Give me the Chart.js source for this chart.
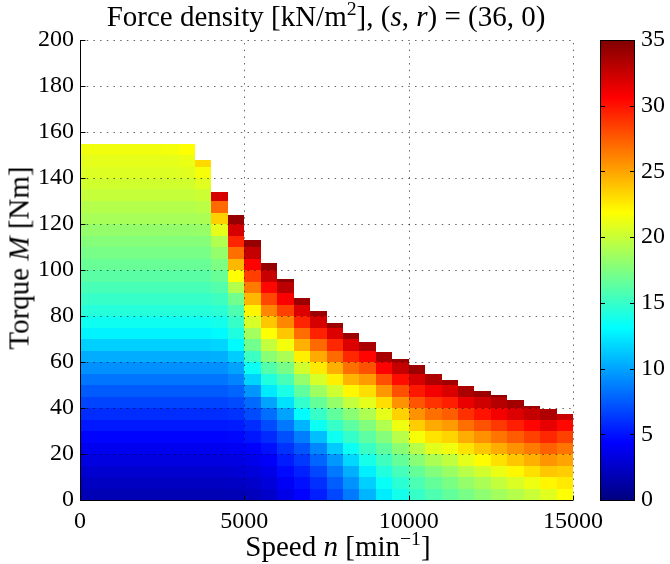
<!DOCTYPE html>
<html>
<head>
<meta charset="utf-8">
<script src="https://cdn.jsdelivr.net/npm/chart.js@4.4.1/dist/chart.umd.min.js"></script>
<style>
  html, body { margin: 0; padding: 0; background: #fff; }
  #wrap { position: relative; width: 670px; height: 564px; font-family: 'Liberation Serif', 'Times New Roman', serif; color: #000; }
  #map { position: absolute; left: 0; top: 0; }
  .lbl { position: absolute; white-space: nowrap; font-size: 29px; line-height: 1; }
  .lbl sup { font-size: 0.68em; line-height: 0; }
  #title { left: 326px; top: 2px; transform: translateX(-50%); }
  #xlab { left: 338px; top: 532px; transform: translateX(-50%); }
  #ylab { left: 19px; top: 258px; transform: translate(-50%, -50%) rotate(-90deg); }
</style>
</head>
<body>
<div id="wrap">
  <canvas id="map" width="670" height="564"></canvas>
  <div class="lbl" id="title">Force density [kN/m<sup>2</sup>], (<i>s</i>, <i>r</i>) = (36, 0)</div>
  <div class="lbl" id="xlab">Speed <i>n</i> [min<sup>−1</sup>]</div>
  <div class="lbl" id="ylab">Torque <i>M</i> [Nm]</div>
</div>
<script>
// speed bins (centre, min^-1), each 500 wide; torque rows are 5 Nm, from 0 upward
const speedBins = [250, 750, 1250, 1750, 2250, 2750, 3250, 3750, 4250, 4750,
    5250, 5750, 6250, 6750, 7250, 7750, 8250, 8750, 9250, 9750,
    10250, 10750, 11250, 11750, 12250, 12750, 13250, 13750, 14250, 14750];
const binWidth = 500;
const torqueStep = 5;

// upper torque limit of the operating area in each bin (Nm)
const torqueMax = [155, 155, 155, 155, 155, 155, 155, 148, 134, 124,
    113, 103, 96, 88, 82, 77, 72.5, 68.5, 64.5, 61.5,
    58.5, 55, 52, 49.5, 47.5, 45.5, 43.5, 41, 39.5, 37.5];

// force density in kN/m^2, one list per speed bin, rows from 0 Nm upward
const density = [
    [1.8, 2.3, 2.8, 3.3, 3.9, 4.5, 5.2, 5.9, 6.7, 7.5, 8.4, 9.3, 10.3, 11.5, 12.7, 13.6, 14.4, 15.0, 15.6, 16.2, 16.7, 17.2, 17.7, 18.2, 18.9, 19.3, 19.9, 20.3, 20.7, 21.0, 21.4],
    [1.8, 2.3, 2.8, 3.3, 3.9, 4.5, 5.2, 5.9, 6.7, 7.5, 8.4, 9.3, 10.3, 11.5, 12.7, 13.6, 14.4, 15.0, 15.6, 16.2, 16.7, 17.2, 17.7, 18.2, 18.9, 19.3, 19.9, 20.3, 20.7, 21.0, 21.4],
    [1.8, 2.3, 2.8, 3.3, 3.9, 4.5, 5.2, 5.9, 6.7, 7.5, 8.4, 9.3, 10.3, 11.5, 12.7, 13.6, 14.4, 15.0, 15.6, 16.2, 16.7, 17.2, 17.7, 18.2, 18.9, 19.3, 19.9, 20.3, 20.7, 21.0, 21.4],
    [1.8, 2.3, 2.8, 3.3, 3.9, 4.5, 5.2, 5.9, 6.7, 7.5, 8.4, 9.3, 10.3, 11.5, 12.7, 13.6, 14.4, 15.0, 15.6, 16.2, 16.7, 17.2, 17.7, 18.2, 18.9, 19.3, 19.9, 20.3, 20.7, 21.0, 21.4],
    [1.8, 2.3, 2.8, 3.3, 3.9, 4.5, 5.2, 5.9, 6.7, 7.5, 8.4, 9.3, 10.3, 11.5, 12.7, 13.6, 14.4, 15.0, 15.6, 16.2, 16.7, 17.2, 17.7, 18.2, 18.9, 19.3, 19.9, 20.3, 20.7, 21.0, 21.4],
    [1.8, 2.3, 2.8, 3.3, 3.9, 4.5, 5.2, 5.9, 6.7, 7.5, 8.4, 9.3, 10.3, 11.5, 12.7, 13.6, 14.4, 15.0, 15.6, 16.2, 16.7, 17.2, 17.7, 18.2, 18.9, 19.3, 19.9, 20.3, 20.7, 21.0, 21.5],
    [1.8, 2.3, 2.8, 3.3, 3.9, 4.5, 5.2, 5.9, 6.7, 7.5, 8.4, 9.3, 10.3, 11.5, 12.7, 13.6, 14.4, 15.0, 15.6, 16.2, 16.7, 17.2, 17.7, 18.2, 18.9, 19.3, 19.9, 20.3, 20.8, 21.2, 21.8],
    [1.8, 2.3, 2.8, 3.3, 3.9, 4.5, 5.2, 5.9, 6.7, 7.5, 8.4, 9.3, 10.3, 11.5, 12.7, 13.6, 14.4, 15.0, 15.6, 16.2, 16.7, 17.2, 17.7, 18.3, 19.0, 19.5, 20.1, 20.8, 21.6, 23.2],
    [1.8, 2.3, 2.8, 3.3, 3.9, 4.5, 5.2, 5.9, 6.7, 7.5, 8.4, 9.3, 10.4, 11.7, 13.0, 13.8, 14.6, 15.3, 16.0, 16.7, 17.4, 18.2, 19.2, 21.0, 23.5, 27.0, 32.0],
    [1.9, 2.4, 2.9, 3.4, 4.0, 4.6, 5.3, 6.1, 6.9, 7.8, 8.9, 10.0, 11.4, 13.0, 14.2, 15.0, 15.8, 17.0, 19.3, 21.8, 24.3, 26.8, 29.4, 32.0, 34.2],
    [2.1, 2.6, 3.1, 3.7, 4.3, 5.1, 5.9, 6.9, 8.0, 9.5, 11.6, 13.5, 15.2, 17.0, 18.7, 20.5, 22.2, 24.3, 26.4, 28.5, 30.6, 32.6, 34.2],
    [2.6, 3.1, 3.6, 4.2, 4.9, 5.8, 6.9, 8.2, 10.0, 12.4, 14.2, 16.0, 17.9, 19.8, 21.8, 23.8, 26.0, 28.2, 30.4, 32.5, 34.3],
    [3.6, 4.1, 4.7, 5.3, 6.1, 7.1, 8.5, 10.0, 12.1, 14.0, 15.6, 17.2, 19.0, 21.5, 23.8, 26.0, 28.4, 30.8, 33.0, 34.5],
    [4.4, 4.9, 5.5, 6.3, 7.3, 8.7, 10.6, 13.1, 14.8, 16.4, 18.2, 20.3, 22.4, 24.6, 26.9, 29.4, 31.8, 34.0],
    [5.4, 6.0, 6.8, 7.8, 9.0, 10.9, 13.5, 15.0, 16.6, 18.5, 20.5, 22.6, 24.8, 27.0, 29.5, 32.0, 34.0],
    [6.8, 7.6, 8.5, 9.6, 11.3, 13.6, 15.0, 16.5, 18.2, 20.2, 22.4, 24.6, 27.0, 29.3, 31.8, 34.0],
    [8.6, 9.4, 10.4, 11.8, 13.5, 14.9, 16.3, 17.9, 19.8, 22.1, 24.4, 26.8, 29.3, 31.8, 34.0],
    [10.6, 11.5, 12.6, 13.9, 15.1, 16.3, 17.6, 19.1, 21.0, 23.0, 25.3, 27.8, 30.5, 33.5],
    [12.5, 13.4, 14.3, 15.3, 16.4, 17.7, 19.2, 21.0, 23.0, 25.4, 27.9, 30.6, 33.6],
    [13.8, 14.6, 15.5, 16.6, 17.9, 19.4, 21.3, 23.4, 25.6, 27.9, 30.2, 32.6, 34.2],
    [15.0, 15.7, 16.6, 17.8, 19.4, 21.6, 23.6, 25.6, 27.7, 29.8, 32.0, 34.0],
    [15.8, 16.6, 17.6, 19.0, 20.9, 22.8, 24.8, 26.8, 28.9, 31.0, 33.4],
    [16.5, 17.3, 18.4, 19.7, 21.4, 23.3, 25.3, 27.4, 29.6, 31.9, 33.8],
    [17.2, 18.2, 19.4, 21.0, 22.8, 24.7, 26.8, 29.0, 31.3, 33.5],
    [18.0, 19.0, 20.3, 22.0, 23.8, 25.7, 27.8, 30.0, 32.3, 34.0],
    [18.7, 19.8, 21.2, 22.9, 24.7, 26.6, 28.7, 31.0, 33.2, 34.5],
    [19.3, 20.6, 22.1, 23.8, 25.6, 27.5, 29.6, 31.8, 33.8],
    [20.0, 21.3, 22.9, 24.6, 26.4, 28.4, 30.5, 32.6, 34.0],
    [20.8, 22.2, 23.8, 25.5, 27.3, 29.3, 31.4, 33.4],
    [21.8, 22.6, 23.6, 25.0, 26.6, 28.4, 30.4, 32.5]
];

const colorMin = 0, colorMax = 35;

// matlab jet colormap
function jet(v) {
    const t = Math.max(0, Math.min(1, (v - colorMin) / (colorMax - colorMin)));
    const c = k => Math.round(255 * Math.max(0, Math.min(1, 1.5 - Math.abs(4 * t - k))));
    return `rgb(${c(3)},${c(2)},${c(1)})`;
}

const cells = [];
speedBins.forEach((n, i) => {
    density[i].forEach((v, j) => {
        const lo = j * torqueStep;
        const hi = Math.min(lo + torqueStep, torqueMax[i]);
        cells.push({ x: n, y: (lo + hi) / 2, lo, hi, v });
    });
});

const heatmap = {
    id: 'heatmap',
    beforeDatasetsDraw(chart) {
        const { ctx, chartArea, scales: { x, y } } = chart;
        ctx.save();
        ctx.beginPath();
        ctx.rect(chartArea.left, chartArea.top, chartArea.right - chartArea.left, chartArea.bottom - chartArea.top);
        ctx.clip();
        chart.data.datasets[0].data.forEach(p => {
            const x0 = Math.round(x.getPixelForValue(p.x - binWidth / 2));
            const x1 = Math.round(x.getPixelForValue(p.x + binWidth / 2));
            const y0 = Math.round(y.getPixelForValue(p.hi));
            const y1 = Math.round(y.getPixelForValue(p.lo));
            ctx.fillStyle = jet(p.v);
            ctx.fillRect(x0, y0, x1 - x0, y1 - y0);
        });
        ctx.restore();
    },
    afterDatasetsDraw(chart) {
        const { ctx, chartArea: a, scales: { x, y, cb } } = chart;
        ctx.save();
        // dotted grid
        ctx.strokeStyle = 'rgba(0,0,0,0.6)';
        ctx.lineWidth = 1;
        ctx.setLineDash([1.5, 5.2]);
        x.ticks.forEach(t => {
            if (t.value === x.min) return;
            const px = Math.round(x.getPixelForValue(t.value)) + 0.5;
            ctx.beginPath(); ctx.moveTo(px, a.bottom); ctx.lineTo(px, a.top); ctx.stroke();
        });
        y.ticks.forEach(t => {
            if (t.value === y.min) return;
            const py = Math.round(y.getPixelForValue(t.value)) + 0.5;
            ctx.beginPath(); ctx.moveTo(a.left, py); ctx.lineTo(a.right, py); ctx.stroke();
        });
        ctx.setLineDash([]);
        // axis lines and inward ticks
        ctx.strokeStyle = '#000';
        const L = Math.round(a.left) + 0.5, B = Math.round(a.bottom) + 0.5;
        ctx.beginPath();
        ctx.moveTo(L, a.top); ctx.lineTo(L, B); ctx.lineTo(a.right, B);
        y.ticks.forEach(t => {
            const py = Math.round(y.getPixelForValue(t.value)) + 0.5;
            ctx.moveTo(L, py); ctx.lineTo(L + 5, py);
        });
        x.ticks.forEach(t => {
            const px = Math.round(x.getPixelForValue(t.value)) + 0.5;
            ctx.moveTo(px, B); ctx.lineTo(px, B - 5);
        });
        ctx.stroke();

        // colour bar
        const bl = cb.left + 27, br = cb.left + 62;
        const top = cb.getPixelForValue(colorMax), bot = cb.getPixelForValue(colorMin);
        const g = ctx.createLinearGradient(0, bot, 0, top);
        [[0, 'rgb(0,0,128)'], [0.125, 'rgb(0,0,255)'], [0.375, 'rgb(0,255,255)'],
         [0.625, 'rgb(255,255,0)'], [0.875, 'rgb(255,0,0)'], [1, 'rgb(128,0,0)']]
            .forEach(([o, c]) => g.addColorStop(o, c));
        ctx.fillStyle = g;
        ctx.fillRect(bl, top, br - bl, bot - top);
        ctx.strokeStyle = '#000';
        ctx.beginPath();
        ctx.rect(bl + 0.5, Math.round(top) + 0.5, br - bl - 1, Math.round(bot - top));
        cb.ticks.forEach(t => {
            const py = Math.round(cb.getPixelForValue(t.value)) + 0.5;
            ctx.moveTo(bl, py); ctx.lineTo(bl + 5, py);
            ctx.moveTo(br, py); ctx.lineTo(br - 5, py);
        });
        ctx.stroke();
        ctx.restore();
    }
};

Chart.defaults.font.family = "'Liberation Serif', 'Times New Roman', serif";
Chart.defaults.color = '#000';

const tickFont = { size: 24 };
const plain = v => String(v);
const noPad = s => { s.paddingTop = 0; s.paddingBottom = 0; s.paddingLeft = 0; s.paddingRight = 0; };

new Chart(document.getElementById('map'), {
    type: 'scatter',
    data: {
        datasets: [{ label: 'Force density', data: cells, pointRadius: 0, pointHoverRadius: 0 }]
    },
    options: {
        responsive: false,
        animation: false,
        events: [],
        layout: { padding: { top: 40, left: 0, right: 0, bottom: 0 } },
        plugins: { legend: { display: false }, tooltip: { enabled: false } },
        scales: {
            x: {
                type: 'linear', min: 0, max: 15000,
                ticks: { stepSize: 5000, font: tickFont, padding: 7, maxRotation: 0, callback: plain },
                grid: { display: false, drawTicks: false }, border: { display: false },
                afterFit: s => { s.height = 64; noPad(s); }
            },
            y: {
                type: 'linear', min: 0, max: 200,
                ticks: { stepSize: 20, font: tickFont, padding: 6, callback: plain },
                grid: { display: false, drawTicks: false }, border: { display: false },
                afterFit: s => { s.width = 80; noPad(s); }
            },
            cb: {
                type: 'linear', position: 'right', min: colorMin, max: colorMax,
                ticks: { stepSize: 5, font: tickFont, padding: 68, callback: plain },
                grid: { display: false, drawTicks: false }, border: { display: false },
                afterFit: s => { s.width = 97; noPad(s); }
            }
        }
    },
    plugins: [heatmap]
});
</script>
</body>
</html>
